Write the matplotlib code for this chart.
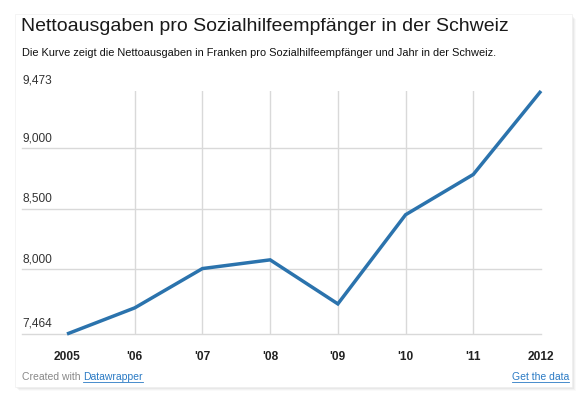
import matplotlib
matplotlib.use("Agg")
import matplotlib.pyplot as plt
from matplotlib.patches import Rectangle

years = [2005, 2006, 2007, 2008, 2009, 2010, 2011, 2012]
values = [7464, 7680, 8005, 8077, 7713, 8450, 8783, 9473]
x_labels = ["2005", "'06", "'07", "'08", "'09", "'10", "'11", "2012"]
y_ticks = [7464, 8000, 8500, 9000, 9473]
y_labels = ["7,464", "8,000", "8,500", "9,000", "9,473"]

title = "Nettoausgaben pro Sozialhilfeempfänger in der Schweiz"
subtitle = "Die Kurve zeigt die Nettoausgaben in Franken pro Sozialhilfeempfänger und Jahr in der Schweiz."

W, H = 582, 398
fig = plt.figure(figsize=(W / 100, H / 100), dpi=100)
fig.patch.set_facecolor("white")

def fx(px):
    return px / W

def fy(py):
    return 1 - py / H

# card shadow + card
for i, a in enumerate([0.05, 0.04, 0.03, 0.02]):
    d = i + 1
    fig.patches.append(Rectangle((fx(15 + d), fy(387 + d)), fx(557), 372 / H,
                                 transform=fig.transFigure, facecolor="black",
                                 alpha=a, edgecolor="none", zorder=0))
fig.patches.append(Rectangle((fx(15), fy(387)), fx(557), 373 / H,
                             transform=fig.transFigure, facecolor="white",
                             edgecolor="#f0f0f0", linewidth=0.5, zorder=1))

# axes: x 2005 at px 67, 2012 at px 541; y 7464 at px 334, 9473 at px 91
left, right, top, bottom = 67, 541, 91, 334
ax = fig.add_axes([fx(left), fy(bottom), fx(right - left), (bottom - top) / H])
ax.set_facecolor("none")
ax.set_zorder(2)
ax.set_xlim(years[0], years[-1])
ax.set_ylim(y_ticks[0], y_ticks[-1])
for s in ax.spines.values():
    s.set_visible(False)
ax.set_xticks([])
ax.set_yticks([])

grid_c = "#d9d9d9"
ext = (22 - left) / (right - left)
for v in y_ticks[:-1]:
    ax.axhline(v, xmin=ext, xmax=1, color=grid_c, lw=1.0, clip_on=False, zorder=1)
for yr in years[1:-1]:
    ax.axvline(yr, color=grid_c, lw=1.0, zorder=1)

ax.plot(years, values, color="#2b73ad", lw=2.5, solid_joinstyle="miter",
        solid_capstyle="butt", zorder=3, clip_on=False)

# y labels (above gridlines, left aligned)
for v, lab in zip(y_ticks, y_labels):
    ax.annotate(lab, xy=(ext, v), xycoords=("axes fraction", "data"),
                xytext=(0.5, 3), textcoords="offset points",
                ha="left", va="bottom", fontsize=8.6, color="#333333",
                family="Liberation Sans")

# x labels
for yr, lab in zip(years, x_labels):
    ax.annotate(lab, xy=(yr, 0), xycoords=("data", "axes fraction"),
                xytext=(0, -18.5), textcoords="offset points",
                ha="center", va="baseline", fontsize=8.6, fontweight="bold",
                color="#222222", family="Liberation Sans")

fig.text(fx(21), fy(31), title, fontsize=14, color="#1a1a1a",
         family="Liberation Sans", ha="left", va="baseline")
fig.text(fx(22), fy(56), subtitle, fontsize=7.95, color="#111111",
         family="Liberation Sans", ha="left", va="baseline")

t1 = fig.text(fx(22), fy(380), "Created with ", fontsize=7.5, color="#888888",
              family="Liberation Sans", ha="left", va="baseline")
fig.canvas.draw()
bb = t1.get_window_extent()
fig.text(bb.x1 / W, fy(380), "Datawrapper", fontsize=7.5, color="#2a7ac4",
         family="Liberation Sans", ha="left", va="baseline")
fig.text(fx(569), fy(380), "Get the data", fontsize=7.5, color="#2a7ac4",
         family="Liberation Sans", ha="right", va="baseline")
# underlines
fig.canvas.draw()
for t in fig.texts[-2:]:
    e = t.get_window_extent()
    yb = fy(381.5)
    fig.add_artist(plt.Line2D([e.x0 / W, e.x1 / W], [yb, yb], color="#2a7ac4",
                              lw=0.6, transform=fig.transFigure))

fig.savefig("out.png", dpi=100)
